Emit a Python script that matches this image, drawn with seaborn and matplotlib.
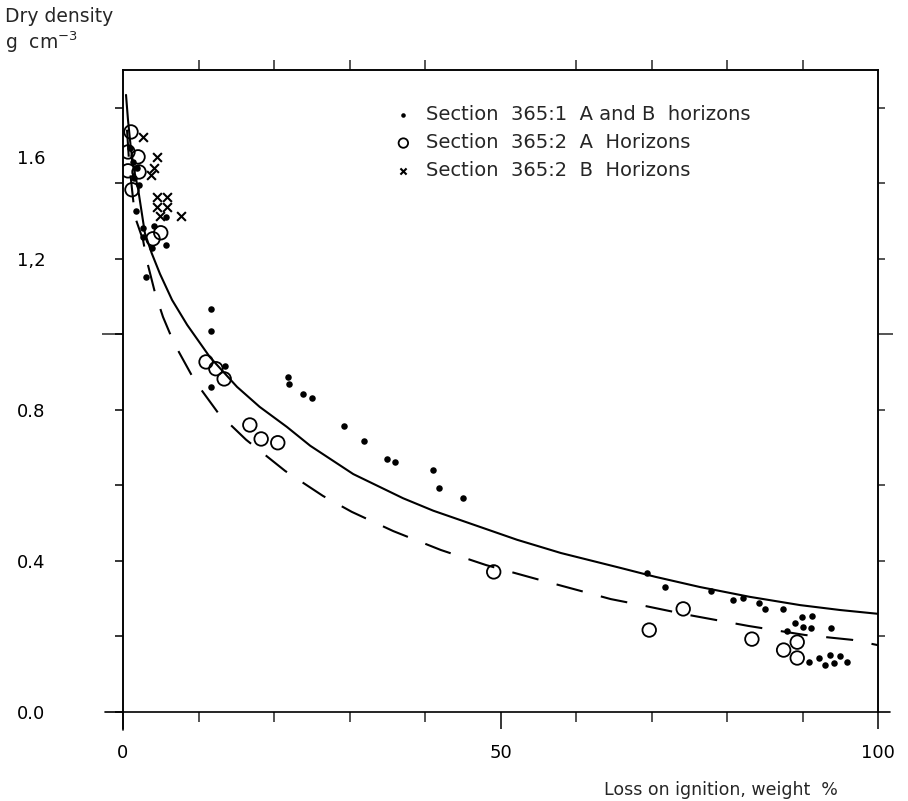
import numpy as np
import pandas as pd
import matplotlib
matplotlib.use("Agg")
import matplotlib.pyplot as plt
import matplotlib.transforms as mtransforms
import seaborn as sns

# ---------------- data ----------------
# Section 365:1 A and B horizons (filled dots)
dots_x = [0.93, 1.32, 1.85, 1.46, 2.1, 1.72, 2.65, 2.65, 4.11, 5.7, 3.84, 5.7, 3.05,
          11.7, 11.7, 13.5, 11.7,
          21.9, 22.0, 23.8, 25.0, 29.3, 31.9, 35.0, 36.0, 41.1, 41.9, 45.0,
          69.4, 71.8, 77.9, 80.8, 82.1, 84.2, 85.0, 87.4, 87.9, 89.0, 89.9, 90.1,
          91.3, 91.1, 93.8, 90.9, 92.2, 93.0, 93.6, 94.2, 95.0, 95.9]
dots_y = [1.494, 1.457, 1.441, 1.415, 1.396, 1.327, 1.282, 1.258, 1.287, 1.311, 1.229, 1.237, 1.152,
          1.068, 1.009, 0.917, 0.861,
          0.887, 0.869, 0.842, 0.832, 0.758, 0.718, 0.670, 0.662, 0.641, 0.593, 0.567,
          0.368, 0.331, 0.321, 0.297, 0.302, 0.289, 0.273, 0.273, 0.215, 0.236, 0.252, 0.225,
          0.254, 0.223, 0.223, 0.132, 0.143, 0.125, 0.151, 0.130, 0.148, 0.132]

# Section 365:2 A horizons (open circles)
circ_x = [1.06, 0.66, 0.66, 1.99, 2.12, 1.19, 5.0, 3.97,
          11.0, 12.3, 13.4, 16.8, 18.3, 20.5, 49.1,
          69.7, 74.2, 83.3, 87.5, 89.3, 89.3]
circ_y = [1.536, 1.483, 1.433, 1.470, 1.430, 1.383, 1.269, 1.253,
          0.927, 0.909, 0.882, 0.760, 0.723, 0.713, 0.371,
          0.217, 0.273, 0.193, 0.164, 0.185, 0.143]

# Section 365:2 B horizons (crosses)
cross_x = [2.65, 4.50, 4.11, 3.71, 4.50, 5.83, 4.50, 5.83, 4.90, 7.68]
cross_y = [1.523, 1.470, 1.441, 1.423, 1.364, 1.364, 1.338, 1.338, 1.314, 1.314]

# fitted curves
solid_x = [0.4, 0.66, 1.06, 1.46, 2.0, 2.9, 3.8, 4.9, 6.5, 8.5, 11.5, 15.1, 18.1,
           21.7, 24.8, 30.5, 37.1, 41.1, 43.7, 52.2, 58.0, 63.2, 65.8, 70.5, 76.4,
           83.0, 89.7, 95.0, 100.0]
solid_y = [1.634, 1.568, 1.489, 1.436, 1.385, 1.268, 1.215, 1.160, 1.091, 1.025, 0.940,
           0.861, 0.808, 0.755, 0.705, 0.630, 0.566, 0.533, 0.515, 0.456, 0.421, 0.395,
           0.382, 0.358, 0.331, 0.305, 0.283, 0.270, 0.260]

dash_x = [0.53, 0.79, 1.06, 1.59, 2.65, 3.2, 4.24, 5.3, 6.75, 9.5, 12.6, 16.3, 21.5,
          26.5, 30.3, 35.8, 42.1, 48.1, 54.8, 61.1, 64.6, 67.9, 74.9, 82.8, 90.3, 96.6, 100.0]
dash_y = [1.542, 1.462, 1.409, 1.311, 1.250, 1.192, 1.110, 1.046, 0.977, 0.877, 0.792,
          0.721, 0.638, 0.572, 0.530, 0.479, 0.429, 0.389, 0.352, 0.318, 0.299, 0.286,
          0.257, 0.228, 0.204, 0.191, 0.177]

labels = ["Section  365:1  A and B  horizons",
          "Section  365:2  A  Horizons",
          "Section  365:2  B  Horizons"]

x_major = [0, 50, 100]
x_major_labels = ["0", "50", "100"]
x_minor = [10, 20, 30, 40, 60, 70, 80, 90]
y_ticks = [0.0, 0.2, 0.4, 0.6, 0.8, 1.0, 1.2, 1.4, 1.6]
y_tick_labels = ["0.0", "", "0.4", "", "0.8", "", "1,2", "", ""]

# ---------------- plotting ----------------
sns.set_theme(style="ticks")
plt.rcParams["font.family"] = ["DejaVu Sans"]
plt.rcParams["axes.linewidth"] = 1.2

fig = plt.figure(figsize=(9.08, 8.01), dpi=100)
ax = fig.add_axes([123 / 908, 1 - 712 / 801, 755 / 908, 642 / 801])

sns.lineplot(x=solid_x, y=solid_y, sort=False, estimator=None, color="black",
             linewidth=1.5, ax=ax)
sns.lineplot(x=dash_x, y=dash_y, sort=False, estimator=None, color="black",
             linewidth=1.5, linestyle=(0, (13, 9)), ax=ax)

sns.scatterplot(x=dots_x, y=dots_y, marker="o", s=22, color="black",
                edgecolor="black", linewidth=0, label=labels[0], ax=ax, zorder=3)
sns.scatterplot(x=circ_x, y=circ_y, marker="o", s=95, facecolor="none",
                edgecolor="black", linewidth=1.3, label=labels[1], ax=ax, zorder=3)
sns.scatterplot(x=cross_x, y=cross_y, marker="x", s=40, color="black",
                linewidth=1.5, label=labels[2], ax=ax, zorder=3)

ax.set_xlim(0, 100)
ax.set_ylim(0, 1.70)

for sp in ax.spines.values():
    sp.set_color("black")
    sp.set_linewidth(1.2)

# bottom ticks
ax.set_xticks(x_major, x_major_labels)
ax.set_xticks(x_minor, minor=True)
ax.tick_params(axis="x", which="major", direction="out", length=12, width=1.1,
               pad=11, labelsize=13, colors="black")
ax.tick_params(axis="x", which="minor", direction="out", length=7, width=1.1)

# left ticks
ax.set_yticks(y_ticks, y_tick_labels)
ax.yaxis.set_minor_locator(matplotlib.ticker.NullLocator())
ax.tick_params(axis="y", which="major", direction="out", length=6, width=1.1,
               pad=50, labelsize=13, colors="black")
ax.set_xlabel("")
ax.set_ylabel("")

# long unlabelled tick at 1.0 on the left
secl = ax.secondary_yaxis("left")
secl.set_yticks([1.0], [""])
secl.tick_params(direction="out", length=15, width=1.1)

# right axis ticks
secr = ax.secondary_yaxis("right")
secr.set_yticks([1.0], [""])
secr.set_yticks([0.2, 0.4, 0.6, 0.8, 1.2, 1.4, 1.6], minor=True)
secr.tick_params(which="major", direction="out", length=11, width=1.1)
secr.tick_params(which="minor", direction="out", length=5, width=1.1)

# top axis ticks
sect = ax.secondary_xaxis("top")
sect.set_xticks(x_minor, [""] * len(x_minor))
sect.tick_params(direction="out", length=7, width=1.1)

# the "1.6" label as placed in the reference
trans = mtransforms.blended_transform_factory(ax.transAxes, ax.transData)
ax.text(-0.103, 1.465, "1.6", transform=trans, ha="right", va="center",
        fontsize=13, color="black")

# axis extensions (frame lines cross at the origin)
ax.plot([-0.024, 0], [0, 0], transform=ax.transAxes, color="black", lw=1.2, clip_on=False)
ax.plot([1, 1.016], [0, 0], transform=ax.transAxes, color="black", lw=1.2, clip_on=False)
ax.plot([0, 0], [-0.028, 0], transform=ax.transAxes, color="black", lw=1.2, clip_on=False)

# axis titles
fig.text(5 / 908, 1 - 17 / 801, "Dry density", ha="left", va="center", fontsize=13.5)
fig.text(5 / 908, 1 - 42 / 801, "g  cm$^{-3}$", ha="left", va="center", fontsize=13.5)
fig.text(838 / 908, 1 - 790 / 801, "Loss on ignition, weight  %", ha="right",
         va="center", fontsize=12.5)

leg = ax.legend(loc="upper left", bbox_to_anchor=(0.343, 0.96), frameon=False,
                fontsize=14, handletextpad=0.55, labelspacing=0.45, markerscale=0.7,
                borderpad=0, handlelength=1.2)

fig.savefig("out.png", dpi=100, facecolor="white")
